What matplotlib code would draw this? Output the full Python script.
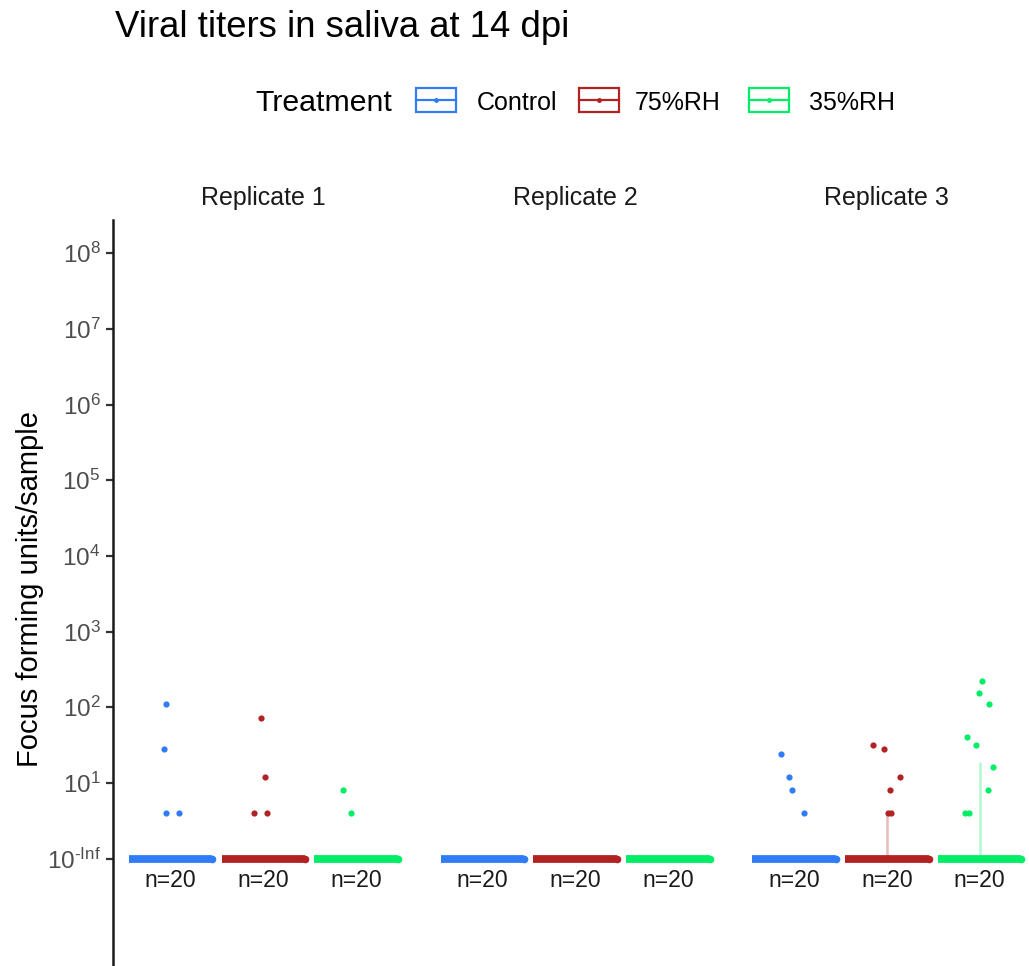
import numpy as np
import matplotlib.pyplot as plt
from matplotlib.patches import Rectangle
from matplotlib.lines import Line2D

plt.rcParams['font.family'] = ['Liberation Sans', 'DejaVu Sans']
plt.rcParams['mathtext.fontset'] = 'custom'
plt.rcParams['mathtext.rm'] = 'Liberation Sans'

# ----------------------------
# Data: positive saliva titers (FFU/sample), all other samples were 0
# ----------------------------
treatments = ["Control", "75%RH", "35%RH"]
replicates = ["Replicate 1", "Replicate 2", "Replicate 3"]
colors = ["#2F7CF6", "#B22222", "#00EE66"]
n_samples = 20

rep1_control = [112, 28, 4, 4]
rep1_75rh = [72, 12, 4, 4]
rep1_35rh = [8, 4]
rep2_control = []
rep2_75rh = []
rep2_35rh = []
rep3_control = [24, 12, 8, 4]
rep3_75rh = [32, 28, 12, 8, 4, 4]
rep3_35rh = [224, 152, 112, 40, 32, 16, 8, 4, 4]

# horizontal jitter of the positive points
rep1_control_jit = [-0.05, -0.07, -0.05, 0.09]
rep1_75rh_jit = [-0.03, 0.02, -0.10, 0.04]
rep1_35rh_jit = [-0.14, -0.05]
rep3_control_jit = [-0.14, -0.06, -0.02, 0.11]
rep3_75rh_jit = [-0.15, -0.03, 0.14, 0.03, 0.01, 0.04]
rep3_35rh_jit = [0.03, -0.01, 0.10, -0.14, -0.04, 0.14, 0.09, -0.16, -0.11]

titers = [
    [rep1_control, rep1_75rh, rep1_35rh],
    [rep2_control, rep2_75rh, rep2_35rh],
    [rep3_control, rep3_75rh, rep3_35rh],
]
jitter = [
    [rep1_control_jit, rep1_75rh_jit, rep1_35rh_jit],
    [[], [], []],
    [rep3_control_jit, rep3_75rh_jit, rep3_35rh_jit],
]

ytick_pos = [0, 1, 2, 3, 4, 5, 6, 7, 8]
ytick_labels = [r"$\mathregular{10^{\text{-Inf}}}$"] + [r"$\mathregular{10^{%d}}$" % k for k in range(1, 9)]

# ----------------------------
# Layout (pixels)
# ----------------------------
W, H = 1029, 966
fig = plt.figure(figsize=(W / 100, H / 100), dpi=100)


def fx(x):
    return x / W


def fy(y):
    return 1 - y / H


panel_left, panel_w, panel_step, panel_top = 113, 300.6, 311.8, 220

for r, rep in enumerate(replicates):
    ax = fig.add_axes([fx(panel_left + r * panel_step), 0, fx(panel_w), 1 - panel_top / H])
    ax.set_xlim(-0.62, 2.62)
    ax.set_ylim(-1.42, 8.44)
    ax.patch.set_visible(False)
    for s in ["top", "right", "bottom"]:
        ax.spines[s].set_visible(False)
    ax.set_xticks([])
    if r == 0:
        ax.spines["left"].set_linewidth(1.8)
        ax.spines["left"].set_color("#1A1A1A")
        ax.set_yticks(ytick_pos)
        ax.set_yticklabels(ytick_labels)
        ax.tick_params(axis="y", length=5, width=1.6, color="#333333",
                       labelcolor="#4D4D4D", labelsize=17.5, pad=4)
    else:
        ax.spines["left"].set_visible(False)
        ax.set_yticks([])

    for g in range(3):
        pos = titers[r][g]
        vals = np.array(pos + [0] * (n_samples - len(pos)), dtype=float)
        logv = np.where(vals > 0, np.log10(np.where(vals > 0, vals, 1)), 0.0)
        q1, med, q3 = np.percentile(logv, [25, 50, 75])
        # box (collapsed) and its median
        if q3 > q1:
            ax.vlines(g, q1, q3, color=colors[g], alpha=0.3, lw=1.8, zorder=1)
        ax.hlines(med, g - 0.45, g + 0.45, color=colors[g], lw=5.6, zorder=2)
        ax.scatter([g + 0.45], [med], s=30, color=colors[g], linewidths=0, zorder=2)
        if pos:
            ax.scatter(g + np.array(jitter[r][g]), np.log10(pos), s=20,
                       color=colors[g], linewidths=0, zorder=3)
        ax.text(g, -0.376, "n=%d" % len(vals), ha="center", va="baseline",
                fontsize=16.6, color="#1A1A1A")

    fig.text(fx(panel_left + r * panel_step + panel_w / 2), fy(205), rep,
             ha="center", va="baseline", fontsize=18, color="#1A1A1A")

# titles
fig.text(fx(115), fy(37), "Viral titers in saliva at 14 dpi", ha="left",
         va="baseline", fontsize=26.3, color="black")
fig.text(fx(30), fy(589), "Focus forming units/sample", rotation=90,
         ha="center", va="center", fontsize=21, color="black")

# ----------------------------
# Legend
# ----------------------------
fig.text(fx(255), fy(111), "Treatment", ha="left", va="baseline", fontsize=21.8)
key_x = [416, 579, 749]
label_x = [477, 635, 809]
for k, lab in enumerate(treatments):
    x0, y0, kw, kh = key_x[k], 88, 40, 24
    fig.patches.append(Rectangle((fx(x0), fy(y0 + kh)), fx(kw), kh / H,
                                 transform=fig.transFigure, fill=False,
                                 edgecolor=colors[k], lw=1.6))
    fig.lines.append(Line2D([fx(x0), fx(x0 + kw)], [fy(y0 + kh / 2)] * 2,
                            transform=fig.transFigure, color=colors[k], lw=1.6))
    fig.lines.append(Line2D([fx(x0 + kw / 2)], [fy(y0 + kh / 2)], marker="o",
                            markersize=2.5, transform=fig.transFigure,
                            color=colors[k], lw=0))
    fig.text(fx(label_x[k]), fy(110), lab, ha="left", va="baseline", fontsize=18)

plt.savefig("out.png", dpi=100)
